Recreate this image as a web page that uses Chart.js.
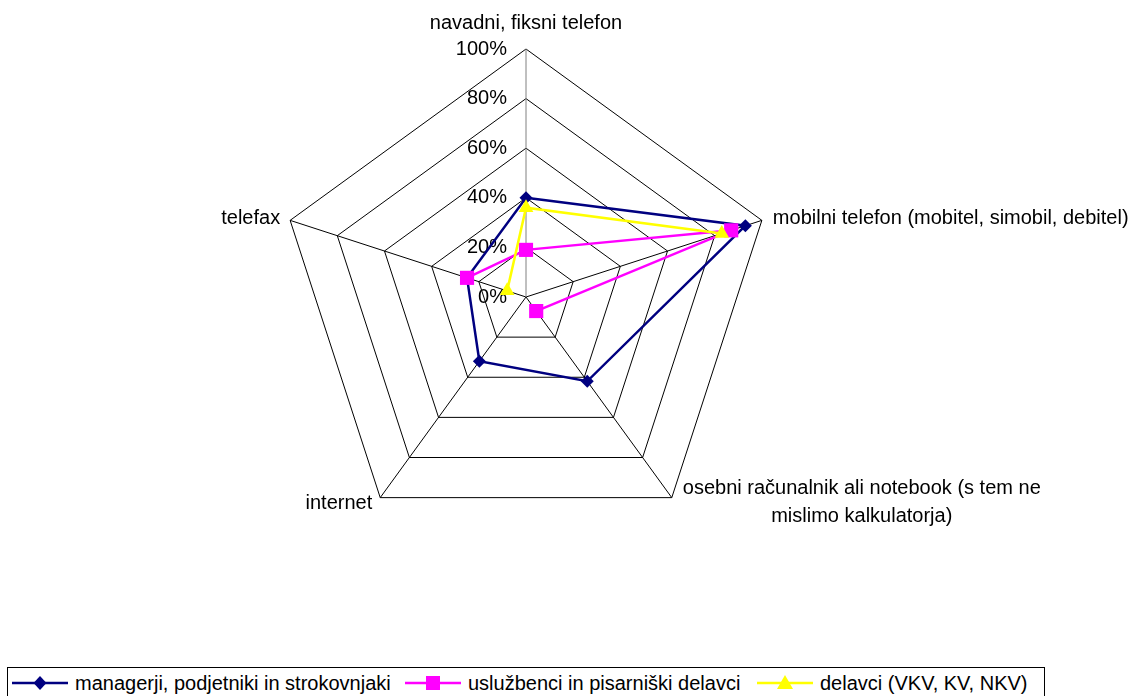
<!DOCTYPE html>
<html>
<head>
<meta charset="utf-8">
<script src="https://cdn.jsdelivr.net/npm/chart.js@4.4.1/dist/chart.umd.min.js"></script>
<style>
html,body{margin:0;padding:0;background:#fff;overflow:hidden;width:1138px;height:696px;}
#wrap{position:relative;width:1138px;height:696px;}
#chart{position:absolute;left:0;top:0;}
#legend{position:absolute;left:7px;top:667px;width:1038px;height:40px;border:1px solid #000;box-sizing:border-box;background:#fff;
  font-family:"Liberation Sans",Arial,sans-serif;font-size:20px;color:#000;}
.item{position:absolute;top:0;height:30px;display:flex;align-items:center;white-space:nowrap;}
.item svg{margin-right:7px;display:block;}
</style>
</head>
<body>
<div id="wrap">
  <canvas id="chart" width="1138" height="696"></canvas>
  <div id="legend"></div>
</div>
<script>
// ---- data ----
const categories = [
  'navadni, fiksni telefon',
  'mobilni telefon (mobitel, simobil, debitel)',
  ['osebni računalnik ali notebook (s tem ne', 'mislimo kalkulatorja)'],
  'internet',
  'telefax'
];
const seriesNames = [
  'managerji, podjetniki in strokovnjaki',
  'uslužbenci in pisarniški delavci',
  'delavci (VKV, KV, NKV)'
];
const managerji = [40, 93, 42, 32, 25];
const usluzbenci = [19, 87, 7, null, 25];
const delavci = [36, 83, null, null, 8];
const tickLabels = ['0%', '20%', '40%', '60%', '80%', '100%'];

// ---- styles ----
const colors = ['#000080', '#FF00FF', '#FFFF00'];
const pointStyles = ['rectRot', 'rect', 'triangle'];
const pointRadii = [6.5, 10, 8.5];

const labelPlugin = {
  id: 'excelLabels',
  beforeDatasetsDraw(chart) {
    const s = chart.scales.r;
    const ctx = chart.ctx;
    ctx.save();
    ctx.font = '20px "Liberation Sans", Arial, sans-serif';
    ctx.fillStyle = '#000';
    ctx.textBaseline = 'middle';
    ctx.textAlign = 'right';
    s.ticks.forEach((t, i) => {
      const d = s.getDistanceFromCenterForValue(t.value);
      ctx.fillText(tickLabels[i], s.xCenter - 19, s.yCenter - d);
    });
    const lay = [
      {dx: 0, dy: -26, align: 'center', lh: 0},
      {dx: 11, dy: -2, align: 'left', lh: 0},
      {dx: 190, dy: -9, align: 'center', lh: 28},
      {dx: -8, dy: 6, align: 'right', lh: 0},
      {dx: -10, dy: -2, align: 'right', lh: 0}
    ];
    categories.forEach((lab, i) => {
      const p = s.getPointPosition(i, s.drawingArea);
      const L = lay[i];
      ctx.textAlign = L.align;
      const lines = Array.isArray(lab) ? lab : [lab];
      lines.forEach((ln, k) => ctx.fillText(ln, p.x + L.dx, p.y + L.dy + k * L.lh));
    });
    ctx.restore();
  }
};

const allData = [managerji, usluzbenci, delavci];
new Chart(document.getElementById('chart'), {
  type: 'radar',
  data: {
    labels: categories,
    datasets: allData.map((d, i) => ({
      label: seriesNames[i],
      data: d,
      borderColor: colors[i],
      backgroundColor: colors[i],
      pointBackgroundColor: colors[i],
      pointBorderColor: colors[i],
      pointBorderWidth: 0,
      pointStyle: pointStyles[i],
      pointRadius: pointRadii[i],
      borderWidth: 2.5,
      fill: false,
      tension: 0,
      spanGaps: false,
      order: 2 - i
    }))
  },
  options: {
    responsive: false,
    animation: false,
    layout: {padding: {left: 278, right: 364, top: 49, bottom: 151}},
    plugins: {legend: {display: false}, tooltip: {enabled: false}},
    scales: {
      r: {
        min: 0, max: 100,
        ticks: {display: false, stepSize: 20},
        pointLabels: {display: false},
        grid: {color: '#000', lineWidth: 1},
        angleLines: {color: (c) => c.index === 0 ? '#808080' : '#000', lineWidth: 1}
      }
    }
  },
  plugins: [labelPlugin]
});

// ---- legend (HTML) ----
function icon(i) {
  const c = colors[i];
  let m = '';
  if (i === 0) m = `<polygon points="28,3 34.5,10 28,17 21.5,10" fill="${c}"/>`;
  else if (i === 1) m = `<rect x="21" y="3" width="14" height="14" fill="${c}"/>`;
  else m = `<polygon points="28,2 36,16 20,16" fill="${c}"/>`;
  return `<svg width="56" height="20" viewBox="0 0 56 20"><line x1="0" y1="10" x2="56" y2="10" stroke="${c}" stroke-width="2.5"/>${m}</svg>`;
}
const legendLefts = [4, 397, 749];
const lg = document.getElementById('legend');
seriesNames.forEach((n, i) => {
  const el = document.createElement('div');
  el.className = 'item';
  el.style.left = legendLefts[i] + 'px';
  el.innerHTML = icon(i) + '<span>' + n + '</span>';
  lg.appendChild(el);
});
</script>
</body>
</html>
